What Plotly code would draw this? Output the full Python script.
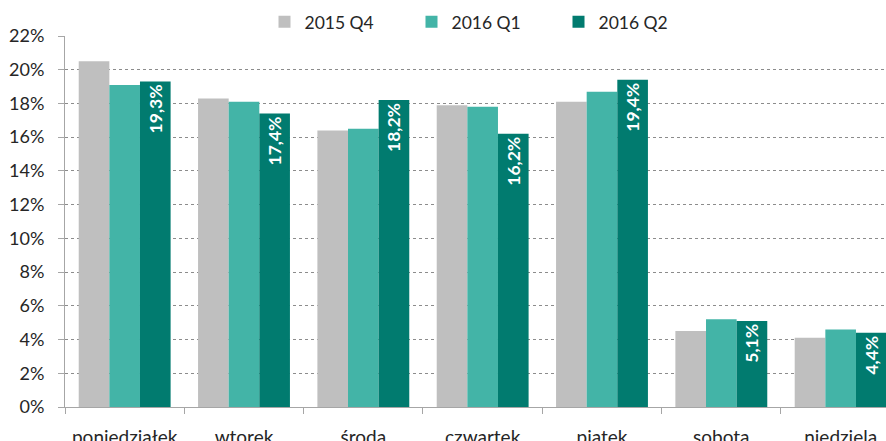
import plotly.graph_objects as go

days = ["poniedziałek", "wtorek", "środa", "czwartek", "piątek", "sobota", "niedziela"]
q4_2015 = [20.5, 18.3, 16.4, 17.9, 18.1, 4.5, 4.1]
q1_2016 = [19.1, 18.1, 16.5, 17.8, 18.7, 5.2, 4.6]
q2_2016 = [19.3, 17.4, 18.2, 16.2, 19.4, 5.1, 4.4]
y_ticks = list(range(0, 23, 2))
y_tick_text = [f"{v}%" for v in y_ticks]

FONT = "Lato"
TXT = "#262626"
AXIS = "#A6A6A6"

fig = go.Figure()
fig.add_bar(name="2015 Q4", x=days, y=q4_2015, marker_color="#BFBFBF", marker_line_width=0)
fig.add_bar(name="2016 Q1", x=days, y=q1_2016, marker_color="#43B4A7", marker_line_width=0)
fig.add_bar(
    name="2016 Q2", x=days, y=q2_2016, marker_color="#017B6F", marker_line_width=0,
    texttemplate="%{y:.1f}%", textposition="inside", insidetextanchor="end",
    textangle=-90, textfont=dict(family=FONT, size=17.5, color="white", weight="bold"),
    constraintext="none",
)

fig.update_layout(
    width=886, height=441,
    margin=dict(l=65, r=0, t=36, b=34, autoexpand=False),
    paper_bgcolor="white", plot_bgcolor="white",
    separators=", ",
    barmode="group", bargap=0.23, bargroupgap=0,
    font=dict(family=FONT, size=17, color=TXT),
    showlegend=True,
    legend=dict(
        orientation="h", x=0.243, xanchor="left", y=1.038, yanchor="middle",
        font=dict(family=FONT, size=17.5, color=TXT),
        entrywidth=102, itemclick=False, traceorder="normal",
        bgcolor="rgba(0,0,0,0)",
    ),
)

fig.update_xaxes(
    range=[-0.5, 6.38], showgrid=False, showline=True, linecolor=AXIS, linewidth=1,
    ticks="outside", tickson="boundaries", ticklen=6, tickcolor=AXIS,
    ticklabelstandoff=13, automargin=False,
    tickfont=dict(family=FONT, size=19, color=TXT), fixedrange=True,
)
fig.update_yaxes(
    range=[0, 22], tickmode="array", tickvals=y_ticks, ticktext=y_tick_text,
    showgrid=True, gridcolor="#8C8C8C", griddash="dot", gridwidth=1,
    showline=True, linecolor=AXIS, linewidth=1, automargin=False,
    ticks="outside", ticklen=6, tickcolor=AXIS, ticklabelstandoff=10,
    tickfont=dict(family=FONT, size=18, color=TXT), zeroline=False, fixedrange=True,
)

fig.write_html("out.html")
